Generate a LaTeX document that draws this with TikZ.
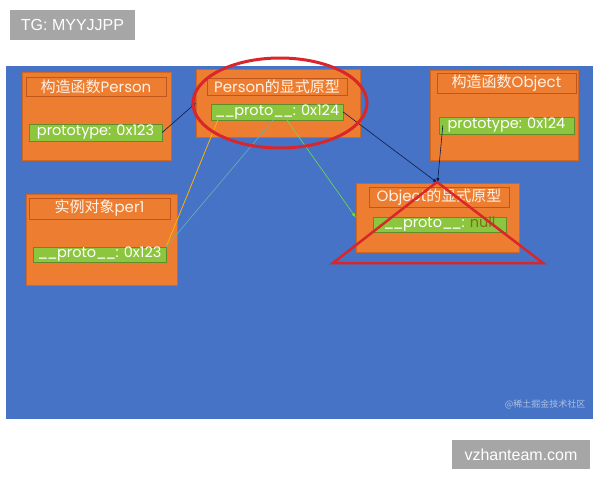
\documentclass[tikz,border=0pt]{standalone}
\usepackage{fontspec}
\setmainfont{Liberation Sans}
\newfontfamily\cjk{Noto Sans CJK SC}
\newfontfamily\lat{Poppins}
\newcommand\dunder{\_\kern-1.2pt\_\kern-0.6pt}
\definecolor{panelblue}{HTML}{4673C6}
\definecolor{boxorange}{HTML}{ED7D31}
\definecolor{boxedge}{HTML}{C0561A}
\definecolor{tagreen}{HTML}{8CC63F}
\definecolor{navy}{HTML}{0B1A4A}
\definecolor{redmark}{HTML}{D8262B}
\begin{document}
\begin{tikzpicture}[x=1pt,y=-1pt,
	outer/.style={fill=boxorange,draw=boxedge!60!boxorange,inner sep=0},
	title/.style={draw=boxedge,inner sep=0,text=orange!10,font=\fontsize{15}{15}\selectfont},
	slot/.style={fill=tagreen,draw=tagreen!70!black,inner sep=0,text=white,font=\lat\fontsize{14.5}{15}\selectfont},
	tag/.style={fill=black!35,inner sep=0,text=white,font=\fontsize{16}{16}\selectfont}]
	\useasboundingbox (0,0) rectangle (600,480);
	\fill[panelblue] (6,66) rectangle (593,419);
	\node[tag,minimum width=125,minimum height=30] (tg) at (72.5,25) {TG: MYYJJPP};
	\node[tag,minimum width=138,minimum height=29] (site) at (521,454.5) {vzhanteam.com};
	\node[text=panelblue!45!white,font=\cjk\fontsize{9}{9}\selectfont,anchor=south east] (mark) at (589,413) {@稀土掘金技术社区};
	\node[outer,minimum width=149,minimum height=88] (pfun) at (96.5,116) {};
	\node[title,minimum width=140,minimum height=19] (pfunt) at (96,86.5) {{\cjk 构造函数}{\lat Person}};
	\node[slot,minimum width=133,minimum height=17] (pfuns) at (95.5,132.5) {prototype: 0x123};
	\node[outer,minimum width=164,minimum height=68] (pp) at (278,103) {};
	\node[title,minimum width=140,minimum height=17] (ppt) at (277,86.5) {{\lat Person}{\cjk 的显式原型}};
	\node[slot,minimum width=132,minimum height=16] (pps) at (277,112) {\dunder proto\dunder: 0x124};
	\node[outer,minimum width=148,minimum height=90] (ofun) at (504,115) {};
	\node[title,minimum width=139,minimum height=20] (ofunt) at (506.5,83) {{\cjk 构造函数}{\lat Object}};
	\node[slot,minimum width=135,minimum height=17] (ofuns) at (506.5,125.5) {prototype: 0x124};
	\node[outer,minimum width=151,minimum height=91] (per) at (101.5,239.5) {};
	\node[title,minimum width=141,minimum height=21] (pert) at (99.5,208.5) {{\cjk 实例对象}{\lat per1}};
	\node[slot,minimum width=133,minimum height=15] (pers) at (99.5,254.5) {\dunder proto\dunder: 0x123};
	\node[outer,minimum width=163,minimum height=69] (op) at (437.5,217.5) {};
	\node[title,minimum width=140,minimum height=20] (opt) at (439,197) {{\lat Object}{\cjk 的显式原型}};
	\node[slot,minimum width=133,minimum height=15] (ops) at (439.5,224.5) {\dunder proto\dunder: {\color{olive!80!black}null}};
	\draw[navy,semithick,-latex] (pfuns.east) -- (pp.west);
	\draw[navy,semithick,-latex] (pps.east) -- (op.north);
	\draw[navy,semithick,-latex] ([xshift=4]ofuns.west) -- (op.north);
	\draw[orange!60!yellow,thick] (pers.north east) -- ([xshift=7]pps.south west);
	\draw[teal!60!white,semithick] (pers.north east) -- ([xshift=-4]pps.south);
	\draw[green!60!olive!70!white,semithick,-latex] ([xshift=10]pps.south) -- (op.west);
	\draw[redmark,line width=3] (280,103) ellipse [x radius=87,y radius=45];
	\draw[redmark,line width=2.5] (437,182) -- (333,263) -- (543,263) -- cycle;
\end{tikzpicture}
\end{document}
